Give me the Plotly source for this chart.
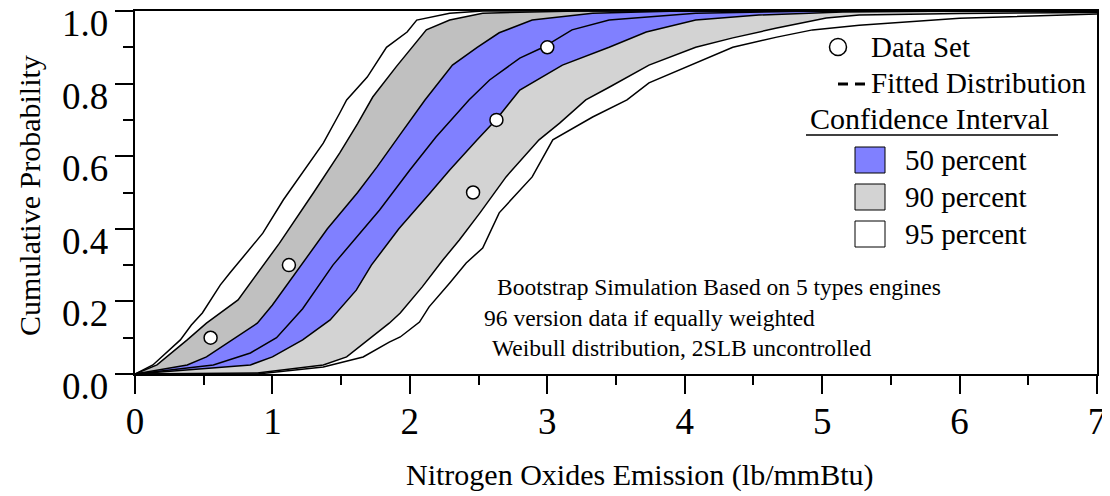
import plotly.graph_objects as go

# ---- data (x: NOx emission lb/mmBtu, y: cumulative probability) ----
data_x = [0.55, 1.12, 2.46, 2.63, 3.00]
data_y = [0.10, 0.30, 0.50, 0.70, 0.90]

# 95 percent left bound
ci95_left_x = [0, 0.13, 0.33, 0.41, 0.49, 0.62, 0.69, 0.93, 1.08, 1.18, 1.37, 1.49, 1.54, 1.69, 1.83, 1.98, 2.05, 2.29, 2.53, 7.0]
ci95_left_y = [0, 0.025, 0.094, 0.135, 0.168, 0.245, 0.278, 0.388, 0.48, 0.534, 0.636, 0.719, 0.755, 0.818, 0.90, 0.942, 0.975, 0.994, 1.0, 1.0]

# 90 percent left bound
ci90_left_x = [0, 0.16, 0.38, 0.52, 0.75, 1.05, 1.30, 1.49, 1.62, 1.73, 1.90, 2.12, 2.29, 2.53, 3.23, 7.0]
ci90_left_y = [0, 0.025, 0.094, 0.14, 0.204, 0.36, 0.50, 0.609, 0.69, 0.763, 0.846, 0.948, 0.975, 0.994, 1.0, 1.0]

# 50 percent left bound
ci50_left_x = [0, 0.38, 0.52, 0.71, 0.89, 1.00, 1.21, 1.40, 1.62, 1.76, 1.93, 2.11, 2.31, 2.49, 2.65, 2.89, 3.33, 3.96, 7.0]
ci50_left_y = [0, 0.025, 0.047, 0.094, 0.14, 0.19, 0.30, 0.40, 0.50, 0.57, 0.66, 0.755, 0.851, 0.90, 0.94, 0.975, 0.994, 1.0, 1.0]

# median (fitted) curve
median_x = [0, 0.57, 0.84, 1.03, 1.22, 1.44, 1.78, 2.00, 2.19, 2.43, 2.58, 2.80, 2.97, 3.18, 3.45, 4.08, 4.98, 7.0]
median_y = [0, 0.025, 0.058, 0.10, 0.18, 0.30, 0.452, 0.562, 0.653, 0.755, 0.81, 0.87, 0.90, 0.948, 0.975, 0.994, 1.0, 1.0]

# 50 percent right bound
ci50_right_x = [0, 0.84, 1.00, 1.22, 1.42, 1.61, 1.72, 1.92, 2.15, 2.29, 2.49, 2.63, 2.80, 3.11, 3.45, 3.72, 4.08, 4.54, 5.15, 6.0, 7.0]
ci50_right_y = [0, 0.025, 0.047, 0.094, 0.149, 0.231, 0.30, 0.40, 0.50, 0.562, 0.645, 0.702, 0.782, 0.851, 0.90, 0.942, 0.975, 0.989, 0.997, 1.0, 1.0]

# 90 percent right bound
ci90_right_x = [0, 0.89, 1.37, 1.54, 1.85, 1.93, 2.09, 2.24, 2.36, 2.51, 2.70, 2.94, 3.09, 3.28, 3.45, 3.74, 4.08, 4.35, 4.67, 5.03, 5.27, 6.0, 7.0]
ci90_right_y = [0, 0.003, 0.025, 0.047, 0.14, 0.168, 0.24, 0.314, 0.369, 0.444, 0.543, 0.645, 0.691, 0.755, 0.79, 0.851, 0.90, 0.926, 0.953, 0.981, 0.989, 0.993, 0.996]

# 95 percent right bound
ci95_right_x = [0, 0.89, 1.37, 1.66, 1.85, 1.93, 2.07, 2.14, 2.29, 2.41, 2.53, 2.58, 2.65, 2.89, 3.04, 3.33, 3.58, 3.74, 4.01, 4.35, 4.67, 4.93, 5.27, 6.0, 7.0]
ci95_right_y = [0, 0.0, 0.019, 0.047, 0.088, 0.102, 0.143, 0.185, 0.251, 0.306, 0.347, 0.388, 0.444, 0.543, 0.645, 0.708, 0.755, 0.802, 0.846, 0.90, 0.928, 0.948, 0.961, 0.98, 0.992]

x_ticks = [0, 1, 2, 3, 4, 5, 6, 7]
y_ticks = [0.0, 0.2, 0.4, 0.6, 0.8, 1.0]

legend_labels = ["Data Set", "Fitted Distribution", "Confidence Interval"]
band_labels = ["50 percent", "90 percent", "95 percent"]
note_lines = ["Bootstrap Simulation Based on 5 types engines",
              "96 version data if equally weighted",
              "Weibull distribution, 2SLB uncontrolled"]

BLUE = "#8080ff"
DARKGRAY = "#c0c0c0"
LIGHTGRAY = "#d3d3d3"
FONT = "Liberation Serif, Times New Roman, serif"

fig = go.Figure()


def band(xa, ya, xb, yb, color):
    fig.add_trace(go.Scatter(x=list(xa) + list(xb)[::-1], y=list(ya) + list(yb)[::-1],
                             fill="toself", fillcolor=color, mode="lines",
                             line=dict(width=0), hoverinfo="skip", showlegend=False))


band(ci90_left_x, ci90_left_y, ci50_left_x, ci50_left_y, DARKGRAY)
band(ci50_left_x, ci50_left_y, ci50_right_x, ci50_right_y, BLUE)
band(ci50_right_x, ci50_right_y, ci90_right_x, ci90_right_y, LIGHTGRAY)

for xs, ys in [(ci95_left_x, ci95_left_y), (ci90_left_x, ci90_left_y), (ci50_left_x, ci50_left_y),
               (median_x, median_y), (ci50_right_x, ci50_right_y), (ci90_right_x, ci90_right_y),
               (ci95_right_x, ci95_right_y)]:
    fig.add_trace(go.Scatter(x=xs, y=ys, mode="lines", line=dict(color="black", width=1.5),
                             showlegend=False, hoverinfo="skip"))

fig.add_trace(go.Scatter(x=data_x, y=data_y, mode="markers",
                         marker=dict(symbol="circle", size=13, color="white",
                                     line=dict(color="black", width=1.5)),
                         showlegend=False))

# page body adds an 8px offset; figure is sized to fill the rest of the window
OFF = 8
FIG_W, FIG_H = 1110 - OFF, 496 - OFF
L, T, W, H = 135, 11, 962, 363   # plot area in window pixels


def px(xp):
    return (xp - L) / W


def py(yp):
    return (T + H - yp) / H


shapes = []
annotations = []

# y tick labels hang just below their ticks, as in the original
for v in y_ticks:
    annotations.append(dict(text="%.1f" % v, xref="paper", yref="y", x=px(110), y=v,
                            xanchor="right", yanchor="middle", yshift=-12, height=26,
                            valign="middle", showarrow=False,
                            font=dict(family=FONT, size=37, color="black")))

# legend: circle
shapes.append(dict(type="circle", xref="paper", yref="paper", xsizemode="pixel", ysizemode="pixel",
                   xanchor=px(838), yanchor=py(47), x0=-8.5, x1=8.5, y0=-8.5, y1=8.5,
                   line=dict(color="black", width=1.5), fillcolor="white"))
# legend: dashes
for a, b in [(838, 848), (855, 865)]:
    shapes.append(dict(type="line", xref="paper", yref="paper", x0=px(a), x1=px(b), y0=py(84), y1=py(84),
                       line=dict(color="black", width=3)))
# underline
shapes.append(dict(type="line", xref="paper", yref="paper", x0=px(806), x1=px(1058), y0=py(135), y1=py(135),
                   line=dict(color="black", width=1.5)))
# swatches
for yc, col in zip([160, 197, 234], [BLUE, LIGHTGRAY, "white"]):
    shapes.append(dict(type="rect", xref="paper", yref="paper", x0=px(855), x1=px(885),
                       y0=py(yc + 13), y1=py(yc - 13), line=dict(color="black", width=1), fillcolor=col))

for txt, xl, yc, sz in zip(legend_labels, [869, 869, 808], [47, 83, 118], [29, 29, 30]):
    annotations.append(dict(text=txt, xref="paper", yref="paper", x=px(xl), y=py(yc),
                            xanchor="left", yanchor="middle", showarrow=False,
                            font=dict(family=FONT, size=sz, color="black")))
for txt, yc in zip(band_labels, [160, 197, 234]):
    annotations.append(dict(text=txt, xref="paper", yref="paper", x=px(903), y=py(yc),
                            xanchor="left", yanchor="middle", showarrow=False,
                            font=dict(family=FONT, size=29, color="black")))
for txt, xl, yc in zip(note_lines, [495, 482, 490], [287, 318, 348]):
    annotations.append(dict(text=txt, xref="paper", yref="paper", x=px(xl), y=py(yc),
                            xanchor="left", yanchor="middle", showarrow=False,
                            font=dict(family=FONT, size=23.5, color="black")))

# axis titles
annotations.append(dict(text="Nitrogen Oxides Emission (lb/mmBtu)", xref="paper", yref="paper",
                        x=px(639), y=py(475), xanchor="center", yanchor="middle", showarrow=False,
                        font=dict(family=FONT, size=30, color="black")))
annotations.append(dict(text="Cumulative Probability", xref="paper", yref="paper", textangle=-90,
                        x=px(30), y=py(196), xanchor="center", yanchor="middle", showarrow=False,
                        font=dict(family=FONT, size=30, color="black")))

fig.update_layout(
    width=FIG_W, height=FIG_H,
    margin=dict(l=L - OFF, r=FIG_W - (L - OFF) - W, t=T - OFF, b=FIG_H - (T - OFF) - H, autoexpand=False),
    paper_bgcolor="white", plot_bgcolor="white",
    shapes=shapes, annotations=annotations,
    font=dict(family=FONT, color="black"),
    xaxis=dict(range=[0, 7], tickvals=x_ticks, ticktext=[str(v) for v in x_ticks],
               ticks="outside", ticklen=18, tickwidth=1.5, tickcolor="black",
               minor=dict(dtick=0.5, ticks="outside", ticklen=9, tickwidth=1.5, tickcolor="black"),
               showline=True, linecolor="black", linewidth=2, mirror=True,
               showgrid=False, zeroline=False, ticklabelstandoff=-4, automargin=False,
               ticklabeloverflow="allow",
               tickfont=dict(family=FONT, size=37, color="black")),
    yaxis=dict(range=[0, 1], tickvals=y_ticks, showticklabels=False,
               ticks="outside", ticklen=18, tickwidth=1.5, tickcolor="black",
               minor=dict(dtick=0.1, ticks="outside", ticklen=10, tickwidth=1.5, tickcolor="black"),
               showline=True, linecolor="black", linewidth=2, mirror=True,
               showgrid=False, zeroline=False, automargin=False),
)

fig.write_html("out.html")
